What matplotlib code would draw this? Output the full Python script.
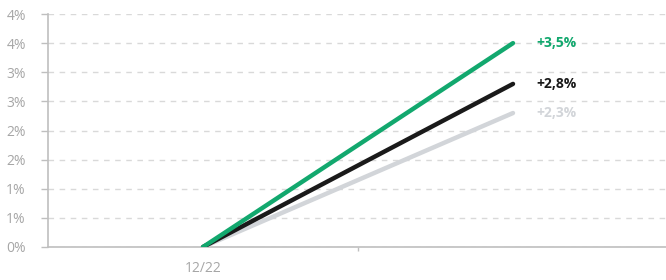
import matplotlib
matplotlib.use("Agg")
import matplotlib.pyplot as plt
from matplotlib.ticker import FuncFormatter, MultipleLocator

categories = ["12/22", ""]
green_vals = [0.0, 3.5]
black_vals = [0.0, 2.8]
grey_vals = [0.0, 2.3]
end_labels = ["+3,5%", "+2,8%", "+2,3%"]
colors = ["#12A86E", "#1A1A1A", "#D2D5D9"]

plt.rcParams['font.family'] = ['Open Sans', 'DejaVu Sans']

fig = plt.figure(figsize=(6.66, 2.8), dpi=100)
ax = fig.add_axes([48/666, 1 - 247/280, 1 - 48/666 + 0.003, (247 - 14)/280])

x = list(range(len(categories)))
for vals, c in [(grey_vals, colors[2]), (black_vals, colors[1]), (green_vals, colors[0])]:
    ax.plot(x, vals, color=c, lw=3.2, solid_capstyle='round', zorder=3)

for vals, lab, c in zip([green_vals, black_vals, grey_vals], end_labels, colors):
    ax.annotate(lab, xy=(x[-1], vals[-1]), xytext=(17, 0), textcoords='offset points',
                ha='left', va='center', fontsize=10, fontweight='bold', color=c)

ax.set_xlim(-0.5, 1.5)
ax.set_ylim(0, 4.0)
ax.yaxis.set_major_locator(MultipleLocator(0.5))
ax.yaxis.set_major_formatter(FuncFormatter(lambda v, p: "%d%%" % int(v + 0.5)))
ax.grid(axis='y', color='#D9D9D9', linestyle=(0, (4, 4)), lw=1)
ax.set_axisbelow(True)

ax.set_xticks([0.5])
ax.set_xticklabels([""])
ax.set_xticks(x, minor=True)
ax.set_xticklabels(categories, minor=True)
ax.tick_params(axis='x', which='minor', length=0, pad=10, labelsize=10, labelcolor='#A6A6A6')
ax.tick_params(axis='x', which='major', length=3, color='#BFBFBF', width=1)
ax.tick_params(axis='y', length=5, color='#BFBFBF', width=1, labelsize=10, labelcolor='#A6A6A6', pad=11)

for s in ['top', 'right']:
    ax.spines[s].set_visible(False)
for s in ['left', 'bottom']:
    ax.spines[s].set_color('#BFBFBF')
    ax.spines[s].set_linewidth(1.2)

fig.savefig("out.png", dpi=100, facecolor='white')
